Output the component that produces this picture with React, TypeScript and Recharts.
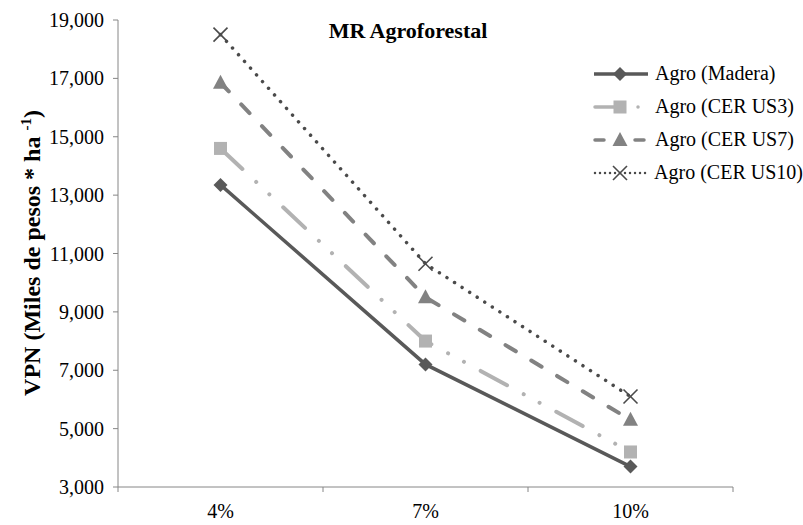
import React from 'react';
import { LineChart, Line, XAxis, YAxis, Legend } from 'recharts';

// ---- data ----
const categories = ['4%', '7%', '10%'];
const agroMadera = [13350, 7200, 3700];
const agroCer3 = [14600, 8000, 4200];
const agroCer7 = [16850, 9500, 5300];
const agroCer10 = [18500, 10650, 6100];
const yTicks = [3000, 5000, 7000, 9000, 11000, 13000, 15000, 17000, 19000];
const seriesNames = ['Agro (Madera)', 'Agro (CER US3)', 'Agro (CER US7)', 'Agro (CER US10)'];

const data = categories.map((c, i) => ({
  pos: i + 0.5,
  cat: c,
  madera: agroMadera[i],
  cer3: agroCer3[i],
  cer7: agroCer7[i],
  cer10: agroCer10[i],
}));

// x ticks: boundaries (integers) carry tick marks, centres (halves) carry labels
const xTicks = [0, 0.5, 1, 1.5, 2, 2.5, 3];

const FONT = '"Liberation Serif", "Times New Roman", serif';
const AXIS = '#868686';

type Shape = 'diamond' | 'square' | 'triangle' | 'x';
const styles: { key: string; color: string; width: number; dash?: string; shape: Shape }[] = [
  { key: 'madera', color: '#595959', width: 3.5, shape: 'diamond' },
  { key: 'cer3', color: '#b2b2b2', width: 4, dash: '30 19 0.001 18 0.001 19', shape: 'square' },
  { key: 'cer7', color: '#828282', width: 4, dash: '12 18', shape: 'triangle' },
  { key: 'cer10', color: '#4a4a4a', width: 3.5, dash: '0.001 9', shape: 'x' },
];

function Marker({ cx, cy, shape, color }: { cx: number; cy: number; shape: Shape; color: string }) {
  if (cx == null || cy == null) return null;
  if (shape === 'diamond') {
    const r = 7;
    return <path d={`M${cx},${cy - r}L${cx + r},${cy}L${cx},${cy + r}L${cx - r},${cy}Z`} fill={color} />;
  }
  if (shape === 'square') {
    const s = 6.5;
    return <rect x={cx - s} y={cy - s} width={2 * s} height={2 * s} fill={color} />;
  }
  if (shape === 'triangle') {
    return <path d={`M${cx},${cy - 8}L${cx + 7.5},${cy + 6}L${cx - 7.5},${cy + 6}Z`} fill={color} />;
  }
  const r = 7;
  return (
    <g stroke={color} strokeWidth={1.6}>
      <line x1={cx - r} y1={cy - r} x2={cx + r} y2={cy + r} />
      <line x1={cx - r} y1={cy + r} x2={cx + r} y2={cy - r} />
    </g>
  );
}

function XTick(props: any) {
  const { x, y, payload } = props;
  const v = payload.value as number;
  if (Number.isInteger(v)) {
    return <line x1={x} y1={y} x2={x} y2={y + 5} stroke={AXIS} strokeWidth={1} />;
  }
  return (
    <text x={x} y={y + 17} dy="0.71em" textAnchor="middle" fill="#000" fontSize={20} fontFamily={FONT}>
      {categories[Math.floor(v)]}
    </text>
  );
}

function YLabel() {
  return (
    <text
      x={40}
      y={253}
      transform="rotate(-90, 40, 253)"
      textAnchor="middle"
      fontFamily={FONT}
      fontWeight="bold"
      fontSize={24}
      fill="#000"
    >
      VPN (Miles de pesos * ha{' '}
      <tspan fontSize={15} dy={-9}>-1</tspan>
      <tspan dy={9}>)</tspan>
    </text>
  );
}

function LegendContent() {
  return (
    <div style={{ fontFamily: FONT, fontSize: 20, color: '#000' }}>
      {styles.map((s, i) => (
        <div key={s.key} style={{ display: 'flex', alignItems: 'center', height: 33 }}>
          <svg width={58} height={20} style={{ display: 'block' }}>
            {s.shape === 'diamond' && <line x1={2} y1={10} x2={56} y2={10} stroke={s.color} strokeWidth={3.5} />}
            {s.shape === 'square' && (
              <g stroke={s.color} strokeWidth={3.5} strokeLinecap="round">
                <line x1={3} y1={10} x2={22} y2={10} />
                <line x1={46} y1={10} x2={46.01} y2={10} />
              </g>
            )}
            {s.shape === 'triangle' && (
              <g stroke={s.color} strokeWidth={3.5} strokeLinecap="round">
                <line x1={3} y1={10} x2={12} y2={10} />
                <line x1={43} y1={10} x2={52} y2={10} />
              </g>
            )}
            {s.shape === 'x' && (
              <line x1={3} y1={10} x2={56} y2={10} stroke={s.color} strokeWidth={2.5} strokeDasharray="0.001 5" strokeLinecap="round" />
            )}
            <Marker cx={28} cy={10} shape={s.shape} color={s.color} />
          </svg>
          <span style={{ marginLeft: 5, whiteSpace: 'nowrap' }}>{seriesNames[i]}</span>
        </div>
      ))}
    </div>
  );
}

export default function App() {
  return (
    <div style={{ position: 'absolute', left: 0, top: 0, width: 803, height: 525, background: '#fff' }}>
      <LineChart width={803} height={525} data={data} margin={{ top: 20, right: 70, bottom: 0, left: 0 }}>
        <XAxis
          dataKey="pos"
          type="number"
          domain={[0, 3]}
          ticks={xTicks}
          interval={0}
          height={38}
          tickLine={false}
          tickSize={0}
          tickMargin={0}
          axisLine={{ stroke: AXIS, strokeWidth: 1 }}
          tick={<XTick />}
        />
        <YAxis
          type="number"
          domain={[3000, 19000]}
          ticks={yTicks}
          interval={0}
          width={118}
          tickSize={5}
          tickMargin={9}
          axisLine={{ stroke: AXIS, strokeWidth: 1 }}
          tickLine={{ stroke: AXIS, strokeWidth: 1 }}
          tick={{ fill: '#000', fontSize: 20, fontFamily: FONT }}
          tickFormatter={(v: number) => v.toLocaleString('en-US')}
          label={{ content: <YLabel /> }}
        />
        {styles.map((s, i) => (
          <Line
            key={s.key}
            name={seriesNames[i]}
            dataKey={s.key}
            type="linear"
            stroke={s.color}
            strokeWidth={s.width}
            strokeDasharray={s.dash}
            strokeLinecap="round"
            isAnimationActive={false}
            activeDot={false}
            dot={(p: any) => <Marker key={`${s.key}-${p.index}`} cx={p.cx} cy={p.cy} shape={s.shape} color={s.color} />}
          />
        ))}
        <Legend
          layout="vertical"
          align="center"
          verticalAlign="middle"
          content={<LegendContent />}
          wrapperStyle={{ left: 592, top: 57, width: 211, height: 132 }}
        />
      </LineChart>
      <div
        style={{
          position: 'absolute',
          left: 0,
          width: 816,
          top: 20,
          textAlign: 'center',
          fontFamily: FONT,
          fontWeight: 'bold',
          fontSize: 22,
          lineHeight: '22px',
          color: '#000',
        }}
      >
        MR Agroforestal
      </div>
    </div>
  );
}
